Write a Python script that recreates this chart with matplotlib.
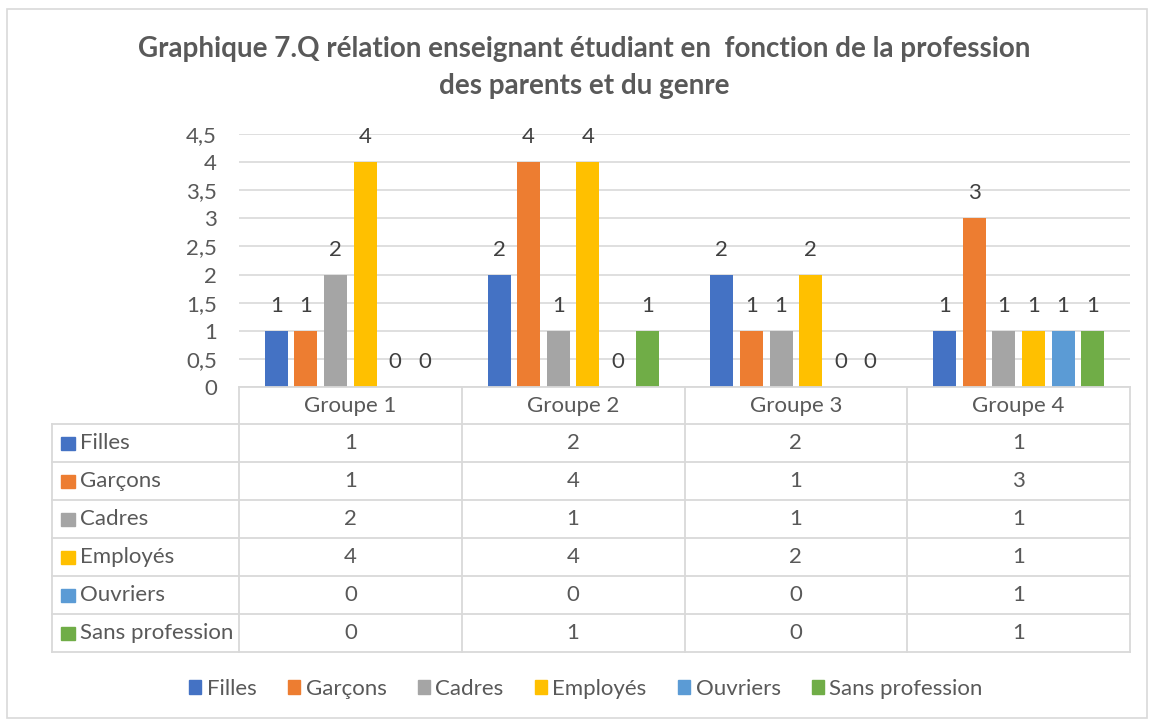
import matplotlib
matplotlib.use("Agg")
import matplotlib.pyplot as plt
from matplotlib.patches import Patch, Rectangle
import numpy as np

plt.rcParams['font.family'] = ['Lato', 'DejaVu Sans']

groups = ["Groupe 1", "Groupe 2", "Groupe 3", "Groupe 4"]
series = ["Filles", "Garçons", "Cadres", "Employés", "Ouvriers", "Sans profession"]
filles = [1, 2, 2, 1]
garcons = [1, 4, 1, 3]
cadres = [2, 1, 1, 1]
employes = [4, 4, 2, 1]
ouvriers = [0, 0, 0, 1]
sans_profession = [0, 1, 0, 1]
values = [filles, garcons, cadres, employes, ouvriers, sans_profession]
colors = ["#4472C4", "#ED7D31", "#A5A5A5", "#FFC000", "#5B9BD5", "#70AD47"]
yticks = [0, 0.5, 1, 1.5, 2, 2.5, 3, 3.5, 4, 4.5]

W, H = 1149, 722
txt = "#595959"
grid = "#d9d9d9"
fs = 16

fig = plt.figure(figsize=(W / 100, H / 100), dpi=100)

# outer frame of the chart
fig.patches.append(Rectangle((7 / W, 4 / H), 1140 / W, 709 / H, transform=fig.transFigure,
                             fill=False, edgecolor=grid, linewidth=1.2))

cx = 584 / W
fig.text(cx, 1 - 49 / H, "Graphique 7.Q rélation enseignant étudiant en  fonction de la profession",
         ha="center", va="center", fontsize=20, fontweight="bold", color=txt)
fig.text(cx, 1 - 86 / H, "des parents et du genre",
         ha="center", va="center", fontsize=20, fontweight="bold", color=txt)

# bar area
left, right, top, base = 239, 1130, 134, 387
ax = fig.add_axes([left / W, 1 - base / H, (right - left) / W, (base - top) / H])
x = np.arange(len(groups))
slot = 0.133
bw = 0.103
for i, (name, vals, c) in enumerate(zip(series, values, colors)):
    xs = x + (i - 2.5) * slot
    ax.bar(xs, vals, bw, color=c, zorder=3)
    for xi, v in zip(xs, vals):
        ax.annotate(str(v), (xi, v), xytext=(0, 25), textcoords="offset pixels",
                    ha="center", va="center", fontsize=fs, color="#404040")
ax.set_xlim(-0.5, len(groups) - 0.5)
ax.set_ylim(0, 4.5)
ax.set_yticks(yticks)
ax.set_yticklabels([("%g" % t).replace(".", ",") for t in yticks], fontsize=fs, color=txt)
ax.tick_params(axis="y", length=0, pad=16)
ax.set_xticks([])
ax.grid(axis="y", color=grid, linewidth=1.2, zorder=0)
for s in ax.spines.values():
    s.set_visible(False)

# data table under the bars
tab = fig.add_axes([left / W, 1 - 652 / H, (right - left) / W, (652 - base) / H])
tab.set_xlim(-0.5, len(groups) - 0.5)
tab.set_ylim(len(series), -0.974)
tab.axis("off")
lab_left = -0.5 - (left - 52) / 222.75
lw = 1.3
tab.plot([-0.5, len(groups) - 0.5], [-0.974, -0.974], color=grid, lw=lw, clip_on=False)
for r in range(len(series) + 1):
    tab.plot([lab_left, len(groups) - 0.5], [r, r], color=grid, lw=lw, clip_on=False)
tab.plot([lab_left, lab_left], [0, len(series)], color=grid, lw=lw, clip_on=False)
for k in range(len(groups) + 1):
    tab.plot([k - 0.5, k - 0.5], [-0.974, len(series)], color=grid, lw=lw, clip_on=False)
for j, g in enumerate(groups):
    tab.text(j, -0.487, g, ha="center", va="center", fontsize=fs, color=txt)
for r, (name, vals, c) in enumerate(zip(series, values, colors)):
    tab.add_patch(Rectangle((lab_left + 9 / 222.75, r + 0.5 - 6.5 / 38), 14 / 222.75, 13 / 38,
                            color=c, clip_on=False))
    tab.text(lab_left + 28 / 222.75, r + 0.5, name, ha="left", va="center", fontsize=fs, color=txt)
    for j, v in enumerate(vals):
        tab.text(j, r + 0.5, str(v), ha="center", va="center", fontsize=fs, color=txt)

handles = [Patch(color=c, label=n) for n, c in zip(series, colors)]
fig.legend(handles=handles, loc="center", bbox_to_anchor=(586 / W, 1 - 689 / H), ncol=6,
           frameon=False, fontsize=fs, labelcolor=txt, handlelength=0.55, handleheight=0.55,
           handletextpad=0.25, columnspacing=1.4)

fig.savefig("out.png", dpi=100)
